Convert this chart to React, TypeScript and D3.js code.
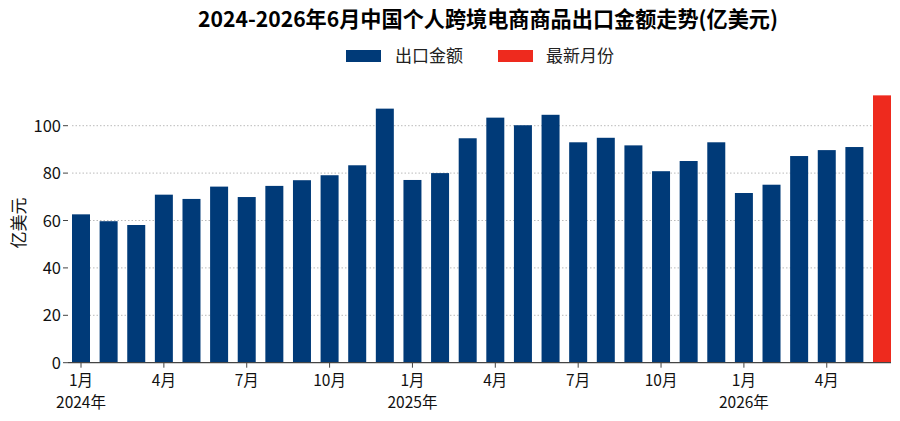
import React from "react";
import * as d3 from "d3";

const months = [
  "2024-01","2024-02","2024-03","2024-04","2024-05","2024-06","2024-07","2024-08","2024-09","2024-10","2024-11","2024-12",
  "2025-01","2025-02","2025-03","2025-04","2025-05","2025-06","2025-07","2025-08","2025-09","2025-10","2025-11","2025-12",
  "2026-01","2026-02","2026-03","2026-04","2026-05","2026-06",
];
const values = [
  62.6, 59.7, 58.1, 70.9, 69.1, 74.3, 69.9, 74.6, 77.0, 79.1, 83.3, 107.2,
  77.1, 80.0, 94.7, 103.4, 100.2, 104.6, 93.0, 94.9, 91.7, 80.8, 85.1, 93.0,
  71.6, 75.1, 87.2, 89.7, 91.0, 112.8,
];
const yTicks = [0, 20, 40, 60, 80, 100];
const title = "2024-2026年6月中国个人跨境电商商品出口金额走势(亿美元)";
const legendItems = ["出口金额", "最新月份"];
const yLabel = "亿美元";

const BLUE = "#003a78";
const RED = "#ee2a1e";
const FONT = "'Noto Sans CJK SC', 'Noto Sans', sans-serif";

export default function App() {
  const W = 900, H = 421;
  const x0 = 68, x1 = 891;
  const y0 = 362.7, yTop = 125.7;
  const x = d3.scaleLinear().domain([0, 29]).range([81, 882]);
  const y = d3.scaleLinear().domain([0, 100]).range([y0, yTop]);
  const bw = 18;

  return (
    <svg width={W} height={H} style={{ display: "block", position: "absolute", left: 0, top: 0 }} fontFamily={FONT}>
      <rect width={W} height={H} fill="#fff" />
      <text x={488} y={27} textAnchor="middle" fontSize={21.5} fontWeight="bold" fill="#000" textLength={580} lengthAdjust="spacingAndGlyphs">{title}</text>
      {/* legend */}
      <rect x={346} y={50} width={35} height={12} fill={BLUE} />
      <text x={395} y={62} fontSize={17} fill="#222">{legendItems[0]}</text>
      <rect x={498} y={50} width={35} height={12} fill={RED} />
      <text x={546} y={62} fontSize={17} fill="#222">{legendItems[1]}</text>
      {/* grid */}
      {yTicks.filter((t) => t > 0).map((t) => (
        <line key={t} x1={72} x2={x1} y1={y(t)} y2={y(t)} stroke="#bbb" strokeWidth={1} strokeDasharray="1.5,2" />
      ))}
      {/* bars */}
      {values.map((v, i) => (
        <rect key={months[i]} x={x(i) - bw / 2} y={y(v)} width={bw} height={y0 - y(v)} fill={i === values.length - 1 ? RED : BLUE} />
      ))}
      {/* x axis */}
      <line x1={x0} x2={x1} y1={y0} y2={y0} stroke="#444" strokeWidth={1.2} />
      {months.map((m, i) => {
        const mo = +m.slice(5);
        if ((mo - 1) % 3 !== 0) return null;
        return (
          <g key={m}>
            <line x1={x(i)} x2={x(i)} y1={y0} y2={y0 + 5} stroke="#444" strokeWidth={1} />
            <text x={x(i)} y={385.5} textAnchor="middle" fontSize={15.5} fill="#111">{mo + "月"}</text>
            {mo === 1 && (
              <text x={x(i)} y={408} textAnchor="middle" fontSize={15.5} fill="#111">{m.slice(0, 4) + "年"}</text>
            )}
          </g>
        );
      })}
      {/* y axis ticks */}
      {yTicks.map((t) => (
        <g key={t}>
          <line x1={63} x2={x0} y1={y(t)} y2={y(t)} stroke="#444" strokeWidth={1} />
          <text x={61} y={y(t) + 6} textAnchor="end" fontSize={16.5} fill="#111">{t}</text>
        </g>
      ))}
      <text transform={`translate(25,223) rotate(-90)`} textAnchor="middle" fontSize={17} fill="#111">{yLabel}</text>
    </svg>
  );
}
